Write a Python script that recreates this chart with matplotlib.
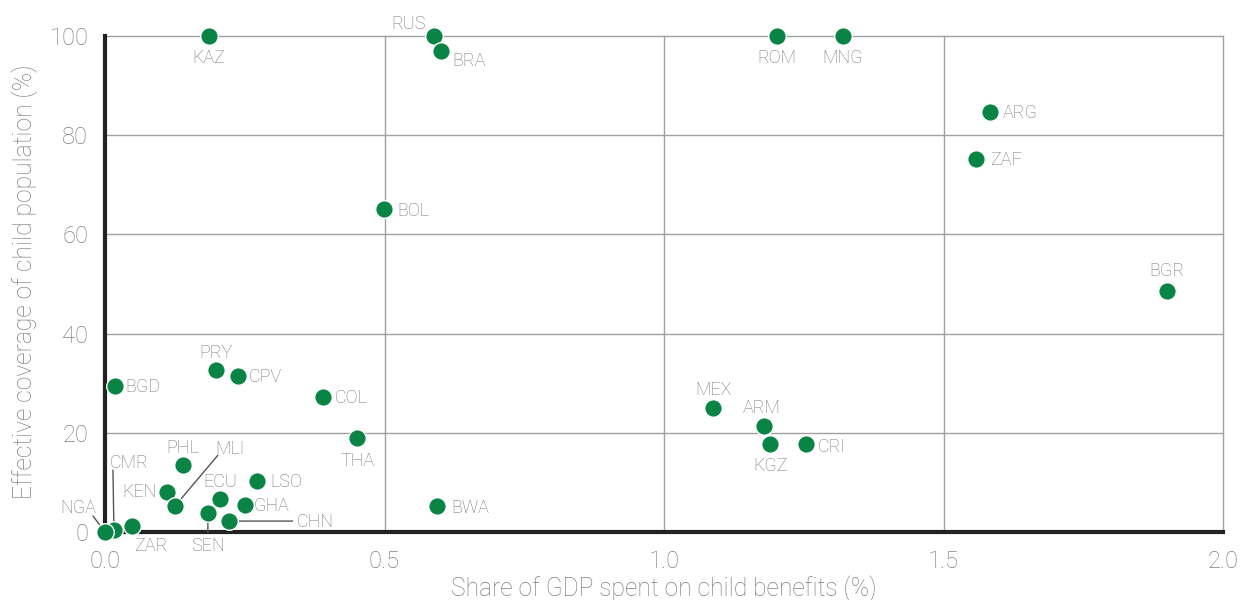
import matplotlib
matplotlib.use('Agg')
import matplotlib.pyplot as plt

# country codes, share of GDP on child benefits (%), effective coverage (%)
codes = ['KAZ', 'RUS', 'BRA', 'ROM', 'MNG', 'ARG', 'ZAF', 'BGR', 'BOL', 'PRY',
         'CPV', 'BGD', 'COL', 'THA', 'MEX', 'ARM', 'KGZ', 'CRI', 'BWA', 'PHL',
         'KEN', 'MLI', 'ECU', 'LSO', 'GHA', 'SEN', 'CHN', 'ZAR', 'CMR', 'NGA']
gdp_share = [0.186, 0.589, 0.601, 1.202, 1.320, 1.583, 1.558, 1.900, 0.499, 0.199,
             0.238, 0.018, 0.390, 0.451, 1.088, 1.179, 1.190, 1.254, 0.594, 0.139,
             0.111, 0.125, 0.206, 0.272, 0.250, 0.184, 0.221, 0.048, 0.016, 0.0]
coverage = [100, 100, 97.0, 100, 100, 84.7, 75.2, 48.6, 65.1, 32.7,
            31.5, 29.4, 27.2, 19.0, 25.0, 21.4, 17.7, 17.7, 5.2, 13.5,
            8.1, 5.2, 6.7, 10.3, 5.4, 3.8, 2.2, 1.2, 0.4, 0.0]

x_ticks = [0.0, 0.5, 1.0, 1.5, 2.0]
x_tick_labels = ['0.0', '0.5', '1.0', '1.5', '2.0']
y_ticks = [0, 20, 40, 60, 80, 100]

# label placement: (dx, dy) in pixels, horizontal alignment
lbl = {
    'KAZ': (0, -22, 'center'), 'RUS': (-26, 12, 'center'), 'BRA': (11, -10, 'left'),
    'ROM': (0, -22, 'center'), 'MNG': (0, -22, 'center'), 'ARG': (13, -1, 'left'),
    'ZAF': (14, -1, 'left'), 'BGR': (0, 20, 'center'), 'BOL': (13, -2, 'left'),
    'PRY': (0, 17, 'center'), 'CPV': (11, -1, 'left'), 'BGD': (10, -1, 'left'),
    'COL': (12, -1, 'left'), 'THA': (0, -23, 'center'), 'MEX': (0, 18, 'center'),
    'ARM': (-2, 18, 'center'), 'KGZ': (0, -22, 'center'), 'CRI': (12, -3, 'left'),
    'BWA': (14, -2, 'left'), 'PHL': (0, 17, 'center'), 'KEN': (-10, 0, 'right'),
    'ECU': (0, 17, 'center'), 'LSO': (13, -1, 'left'), 'GHA': (9, -1, 'left'),
    'ZAR': (19, -20, 'center'),
    'MLI': (55, 57, 'center'), 'SEN': (0, -33, 'center'), 'CHN': (68, -1, 'left'),
    'CMR': (15, 67, 'center'), 'NGA': (-27, 24, 'center'),
}
# leader lines: start offset in pixels from the point
leaders = {'MLI': (43, 51), 'SEN': (0, -19), 'CHN': (64, 0),
           'CMR': (-1, 60), 'NGA': (-12, 16)}

plt.rcParams['font.family'] = ['Roboto', 'DejaVu Sans']

fig = plt.figure(figsize=(12.42, 6.0), dpi=100)
ax = fig.add_axes([105 / 1242, 1 - 532 / 600, 1118 / 1242, 496 / 600])

green = '#0a8444'
grey_txt = '#767676'
axis_txt = '#7f7f7f'

ax.scatter(gdp_share, coverage, s=160, color=green, edgecolors='white',
           linewidths=1.0, zorder=5, clip_on=False)

for c, xv, yv in zip(codes, gdp_share, coverage):
    dx, dy, ha = lbl[c]
    ax.annotate(c, (xv, yv), xytext=(dx, dy), textcoords='offset pixels',
                ha=ha, va='center', fontsize=13, color=grey_txt,
                fontweight='light', zorder=6, annotation_clip=False)
    if c in leaders:
        lx, ly = leaders[c]
        ax.annotate('', (xv, yv), xytext=(lx, ly), textcoords='offset pixels',
                    arrowprops=dict(arrowstyle='-', color='#555555', lw=1.0,
                                    shrinkA=0, shrinkB=0),
                    zorder=4, annotation_clip=False)

ax.set_xlim(0, 2.0)
ax.set_ylim(0, 100)
ax.set_xticks(x_ticks)
ax.set_xticklabels(x_tick_labels)
ax.set_yticks(y_ticks)

ax.grid(True, color='#a0a0a0', lw=1.0, zorder=0)
for gl in ax.get_xgridlines() + ax.get_ygridlines():
    gl.set_clip_on(False)
ax.set_axisbelow(True)

for s in ['top', 'right']:
    ax.spines[s].set_visible(False)
for s in ['left', 'bottom']:
    ax.spines[s].set_color('#222222')
    ax.spines[s].set_linewidth(3)
    ax.spines[s].set_zorder(3)

ax.tick_params(length=0, labelsize=17, labelcolor=axis_txt)
ax.tick_params(axis='x', pad=13)
ax.tick_params(axis='y', pad=12)
for t in ax.get_xticklabels() + ax.get_yticklabels():
    t.set_fontweight('light')

ax.set_xlabel('Share of GDP spent on child benefits (%)', fontsize=17.7,
              color=axis_txt, fontweight='light', labelpad=2)
ax.set_ylabel('Effective coverage of child population (%)', fontsize=17.7,
              color=axis_txt, fontweight='light')
ax.yaxis.set_label_coords(-67 / 1118, 0.5 + 2 / 496)

fig.savefig('out.png', dpi=100)
